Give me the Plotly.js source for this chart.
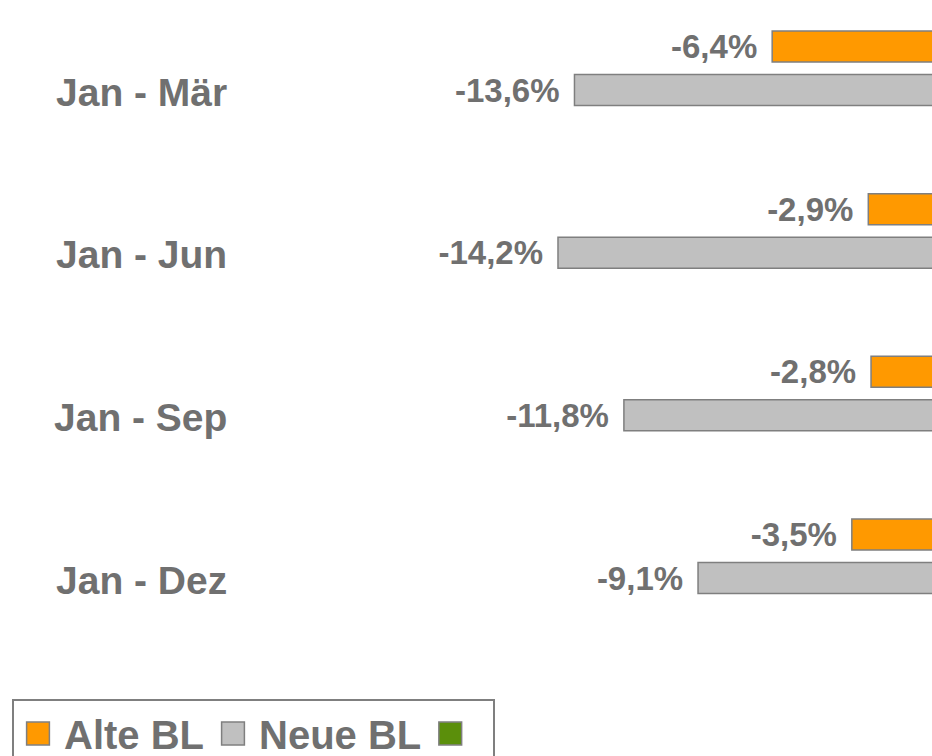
<!DOCTYPE html>
<html>
<head>
<meta charset="utf-8">
<script src="https://cdn.plot.ly/plotly-3.0.1.min.js"></script>
<style>
html, body { margin: 0; padding: 0; background: #ffffff; }
#chart { width: 932px; height: 756px; }
/* enlarge the legend swatches to match the reference */
#chart .legend .legendpoints path {
  transform: translate(24px, 0px) scale(1.9);
  vector-effect: non-scaling-stroke;
}
</style>
</head>
<body>
<div id="chart"></div>
<script>
var categories = ['Jan - Mär', 'Jan - Jun', 'Jan - Sep', 'Jan - Dez'];
var alteBL = [-6.4, -2.9, -2.8, -3.5];
var neueBL = [-13.6, -14.2, -11.8, -9.1];
var dritteReihe = [null, null, null, null];
var seriesNames = ['Alte BL', 'Neue BL', ' '];

var textColor = '#707070';
var fontFam = 'Arial, "Liberation Sans", Helvetica, sans-serif';

function barTrace(name, values, fill, offset) {
  return {
    type: 'bar',
    orientation: 'h',
    name: name,
    y: categories,
    x: values,
    width: 0.1906,
    offset: offset,
    marker: { color: fill, line: { color: '#7f7f7f', width: 1.5 } },
    texttemplate: '<b>%{x:.1f}%</b>\u00a0\u200a',
    textposition: 'outside',
    constraintext: 'none',
    cliponaxis: false,
    textfont: { family: fontFam, size: 33, color: textColor },
    hoverinfo: 'name+x'
  };
}

var data = [
  barTrace(seriesNames[0], alteBL, '#ff9900', -0.2275),
  barTrace(seriesNames[1], neueBL, '#c0c0c0', 0.040),
  {
    type: 'bar', orientation: 'h', name: seriesNames[2],
    y: categories, x: dritteReihe, width: 0.1906, offset: 0.3,
    marker: { color: '#5b8f0b', line: { color: '#7f7f7f', width: 1.5 } },
    hoverinfo: 'skip'
  }
];

var annotations = categories.map(function (c) {
  return {
    xref: 'paper', yref: 'y', x: 229 / 932, y: c,
    xanchor: 'right', yanchor: 'middle', yshift: -24,
    text: '<b>' + c + '</b>', showarrow: false,
    font: { family: fontFam, size: 39, color: textColor }
  };
});

var layout = {
  width: 932, height: 756,
  margin: { l: 0, r: 0, t: 0, b: 0, pad: 0, autoexpand: false },
  paper_bgcolor: '#ffffff', plot_bgcolor: '#ffffff',
  separators: ', ',
  barmode: 'group',
  showlegend: true,
  legend: {
    orientation: 'h', x: 12 / 932, xanchor: 'left', y: 1 - 699 / 756, yanchor: 'top',
    bgcolor: '#ffffff', bordercolor: '#7f7f7f', borderwidth: 2,
    itemwidth: 40,
    font: { family: fontFam, size: 40, color: textColor, weight: 'bold' },
    traceorder: 'normal'
  },
  xaxis: {
    range: [-34.52, -0.58], showgrid: false, zeroline: false,
    showticklabels: false, showline: false, ticks: '', fixedrange: true
  },
  yaxis: {
    type: 'category', range: [4.2295, -0.418], showgrid: false, zeroline: false,
    showticklabels: false, showline: false, ticks: '', fixedrange: true
  },
  annotations: annotations
};

Plotly.newPlot('chart', data, layout, { displayModeBar: false, staticPlot: true });
</script>
</body>
</html>
